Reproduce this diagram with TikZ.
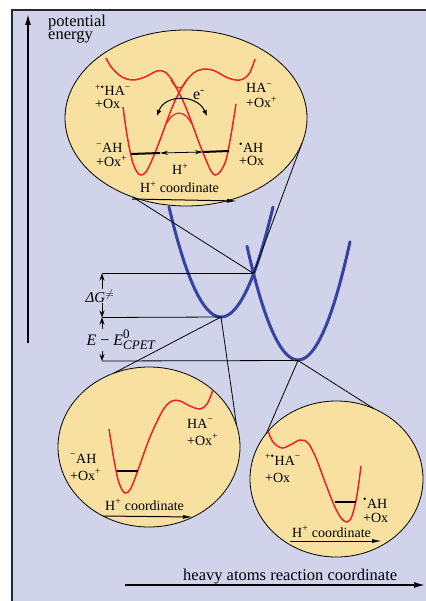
\documentclass[tikz,border=0pt]{standalone}
\usepackage{fontspec}
\setmainfont{Liberation Serif}
\usetikzlibrary{arrows.meta,shapes.geometric}
\definecolor{bg}{RGB}{208,211,234}
\definecolor{ell}{RGB}{248,224,160}
\definecolor{redc}{RGB}{232,36,40}
\definecolor{bluec}{RGB}{52,68,160}
\definecolor{framec}{RGB}{40,40,50}
\begin{document}
\begin{tikzpicture}[x=1pt,y=-1pt,
  lab/.style={anchor=base west, inner sep=0pt, font=\fontsize{14}{14}\selectfont},
  axlab/.style={anchor=base west, inner sep=0pt, font=\fontsize{16.5}{16.5}\selectfont},
  zoomline/.style={line width=0.8pt},
  redcurve/.style={draw=redc, line width=1.5pt},
  lenscurve/.style={draw=redc, line width=1.2pt},
  bluecurve/.style={draw=bluec, line width=3pt, line cap=round},
  lens/.style={ellipse, draw=black, line width=0.8pt, fill=ell, inner sep=0pt, outer sep=0pt},
  bar/.style={line width=2pt},
  hcoord/.style={line width=1pt, -{Latex[length=10pt,width=4pt]}},
  dbl/.style={line width=0.8pt, {Stealth[length=7pt,width=5pt]}-{Stealth[length=7pt,width=5pt]}},
  hdbl/.style={line width=0.8pt, {Stealth[length=8pt,width=4pt]}-{Stealth[length=8pt,width=4pt]}},
  earrow/.style={line width=1pt, {Latex[length=6pt,width=5pt]}-{Latex[length=6pt,width=5pt]}},
  axis/.style={line width=1.5pt, -{Latex[length=11pt,width=6pt]}},
  gap/.style={fill=bg, inner sep=1pt, font=\fontsize{15}{15}\selectfont}
]
\useasboundingbox (0,0) rectangle (425,601);
% frame
\draw[fill=bg, draw=framec, line width=1.5pt] (12,10) rectangle (440,620);

% axes
\coordinate (ya0) at (28,343);
\coordinate (ya1) at (28,14);
\draw[axis] (ya0) -- (ya1);
\node[axlab] (pot) at (48,27) {potential};
\node[axlab] (ene) at (48,39.5) {energy};
\coordinate (xa0) at (125,585);
\coordinate (xa1) at (425,585);
\draw[axis] (xa0) -- (xa1);
\node[axlab] (hv) at (183,580) {heavy atoms reaction coordinate};

% blue diabatic parabolas
\draw[bluecurve] plot[domain=169:273,samples=60] (\x,{317-110*((\x-221)/52)^2});
\draw[bluecurve] plot[domain=247:350,samples=60] (\x,{360-116*((\x-298)/51.5)^2});

% key points
\coordinate (X) at (253.6,273.5);
\coordinate (Lmin) at (221,317);
\coordinate (Rmin) at (298,360.5);
\coordinate (GA) at (102,273.5);
\coordinate (GB) at (102,317.5);
\coordinate (GC) at (102,361);

% lenses
\node[lens, minimum width=242pt, minimum height=176pt] (TE) at (186,118) {};
\node[lens, minimum width=182pt, minimum height=160pt] (BL) at (149,447) {};
\node[lens, minimum width=173pt, minimum height=156pt] (BR) at (336.5,479) {};

% zoom lines
\draw[zoomline] (TE.-124) -- (X);
\draw[zoomline] (TE.-12) -- (X);
\draw[zoomline] (Lmin) -- (BL.116);
\draw[zoomline] (Lmin) -- (BL.14);
\draw[zoomline] (Rmin) -- (BR.147);
\draw[zoomline] (Rmin) -- (BR.62);

% level lines
\draw[zoomline] (GA) -- (X);
\draw[zoomline] (GB) -- (Lmin);
\draw[zoomline] (GC) -- (Rmin);
\draw[dbl] (GA) -- (GB);
\draw[dbl] (GB) -- (GC);
\node[gap] (dg) at (100,296) {\textit{ΔG}$^{\neq}$};
\node[gap, font=\fontsize{16}{16}\selectfont] (de) at (121,340) {\textit{E}\hspace{4pt}−\hspace{4pt}\textit{E}${}^{\mbox{\fontsize{13}{13}\selectfont 0}}_{\mbox{\fontsize{13}{13}\selectfont\itshape CPET}}$};

% ---------- top lens content ----------
\draw[redcurve] plot[smooth, tension=0.55] coordinates {(123,107) (127,135) (132,160) (137,172) (141,175) (146,172) (152,160) (160,140) (168,118) (174,103) (179,93) (186,81) (195,72) (205,69) (215,71) (228,78) (240,80) (249,74) (255,59)};
\draw[redcurve] plot[smooth, tension=0.55] coordinates {(106,58) (112,68) (122,77) (133,80) (145,77) (157,71) (165,72) (172,80) (179,93) (184,103) (190,118) (198,140) (206,160) (211,171) (215,175) (220,172) (226,160) (231,135) (236,104)};
\draw[lenscurve] plot[smooth] coordinates {(166,124) (172,116) (179,113) (186,116) (192,124)};
\draw[lenscurve] plot[smooth] coordinates {(171,80) (175,86) (179,88) (183,86) (187,80)};
\coordinate (e0) at (157,116);
\coordinate (e1) at (207,116);
\draw[earrow] (e0) .. controls (165,94) and (197,94) .. (e1);
\node[anchor=base west, inner sep=0pt, font=\fontsize{16}{16}\selectfont] (el) at (193,100) {e\textsuperscript{-}};
\coordinate (b0) at (131,154);
\coordinate (b1) at (160,153);
\coordinate (b2) at (203,152);
\coordinate (b3) at (229,151);
\draw[bar] (b0) -- (b1);
\draw[bar] (b2) -- (b3);
\draw[hdbl] (b1) -- (b2);
\node[lab] (a1) at (95,96) {\textsuperscript{+•}HA\textsuperscript{−}};
\node[lab] (a2) at (95,108.5) {+Ox};
\node[lab] (b1l) at (246,92.5) {HA\textsuperscript{−}};
\node[lab] (b2l) at (246,107.5) {+Ox\textsuperscript{+}};
\node[lab] (c1) at (96,153) {\textsuperscript{−}AH};
\node[lab] (c2) at (96,167) {+Ox\textsuperscript{+}};
\node[lab] (d1) at (239,153) {\textsuperscript{•}AH};
\node[lab] (d2) at (239,166) {+Ox};
\node[lab] (hp) at (172,175) {H\textsuperscript{+}};
\node[lab] (hc1) at (140,193) {H\textsuperscript{+}\ coordinate};
\coordinate (t0) at (132,199);
\coordinate (t1) at (237,201);
\draw[hcoord] (t0) -- (t1);

% ---------- bottom-left lens ----------
\draw[redcurve] plot[smooth, tension=0.55] coordinates {(109,429) (114,460) (119,483) (125,493) (131,488) (138,470) (150,437) (163,410) (172,401) (180,401) (190,406) (200,409) (207,404) (213,390)};
\coordinate (l0) at (117,471);
\coordinate (l1) at (138,471);
\draw[bar] (l0) -- (l1);
\node[lab] (f1) at (187,428) {HA\textsuperscript{−}};
\node[lab] (f2) at (187,445) {+Ox\textsuperscript{+}};
\node[lab] (g1) at (70,463) {\textsuperscript{−}AH};
\node[lab] (g2) at (70,480) {+Ox\textsuperscript{+}};
\node[lab] (hc2) at (105,510) {H\textsuperscript{+}\ coordinate};
\coordinate (u0) at (103,516);
\coordinate (u1) at (193,517);
\draw[hcoord] (u0) -- (u1);

% ---------- bottom-right lens ----------
\draw[redcurve] plot[smooth, tension=0.55] coordinates {(268,431) (273,442) (282,448) (292,444) (300,440) (308,443) (316,458) (325,482) (334,505) (341,518) (347,522) (352,516) (357,495) (361,466)};
\coordinate (r0) at (335,502);
\coordinate (r1) at (356,502);
\draw[bar] (r0) -- (r1);
\node[lab] (h1) at (265,465) {\textsuperscript{+•}HA\textsuperscript{−}};
\node[lab] (h2) at (265,482) {+Ox};
\node[lab] (k1) at (363,508) {\textsuperscript{•}AH};
\node[lab] (k2) at (363,522) {+Ox};
\node[lab] (hc3) at (292,537) {H\textsuperscript{+}\ coordinate};
\coordinate (v0) at (290,541);
\coordinate (v1) at (382,541);
\draw[hcoord] (v0) -- (v1);
\end{tikzpicture}
\end{document}
